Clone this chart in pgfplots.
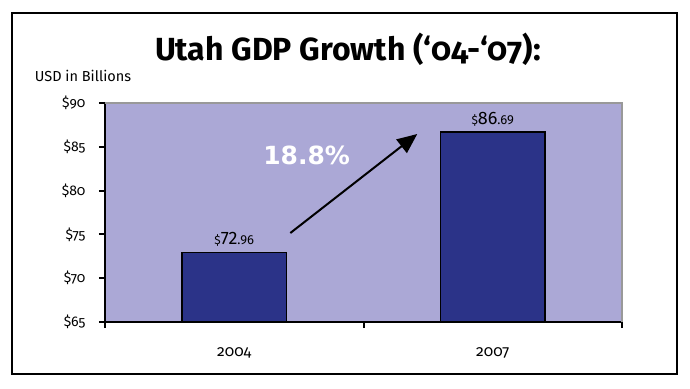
\documentclass[border=0pt]{standalone}
\usepackage{pgfplots}
\pgfplotsset{compat=1.18}
\usetikzlibrary{arrows.meta}
\usepackage{fontspec}
\setmainfont{Fira Sans}[Numbers=OldStyle]
\newfontfamily\pctfont{DejaVu Sans}
\definecolor{lav}{HTML}{ABA8D6}
\definecolor{barblue}{HTML}{2B3388}
\definecolor{frameg}{HTML}{999999}
\begin{document}
\begin{tikzpicture}[x=1pt,y=1pt]
\useasboundingbox (-105,-66) rectangle (585,322);
\draw[line width=2.5pt] (-93,-52) rectangle (572,309);
\node[font=\fontsize{32}{36}\selectfont\bfseries] at (243,273) {Utah GDP Growth (‘04-‘07):};
\node[font=\fontsize{14.5}{16}\selectfont] at (-22,246) {USD in Billions};
\begin{axis}[
  at={(0,0)}, anchor=south west,
  scale only axis, width=517pt, height=219pt,
  xmin=-0.5, xmax=1.5, ymin=65, ymax=90,
  axis background/.style={fill=lav},
  axis x line*=bottom, axis y line*=left,
  axis line style={-, line width=2pt, black},
  ybar, bar width=0.405,
  ytick={65,70,...,90},
  yticklabel={\$\pgfmathprintnumber{\tick}},
  /pgf/number format/assume math mode=true,
  yticklabel style={font=\fontsize{14}{16}\selectfont, xshift=-10pt},
  xtick={-0.5,0.5,1.5}, xticklabels={},
  extra x ticks={0,1}, extra x tick labels={2004,2007},
  extra x tick style={major tick length=0pt, tick label style={yshift=-22pt, font=\fontsize{15.5}{17}\selectfont}},
  tick align=outside, major tick length=6pt,
  tick style={line width=2pt, black},
  clip=false,
  point meta=explicit symbolic,
  nodes near coords,
  nodes near coords style={font=\fontsize{18}{20}\selectfont, black, inner sep=5pt},
]
\draw[frameg, line width=1.5pt] (rel axis cs:0,1) -- (rel axis cs:1,1) -- (rel axis cs:1,0);
\addplot[fill=barblue, draw=black, line width=1.5pt] coordinates {
  (0,72.96) [{\fontsize{12}{12}\selectfont\$}\addfontfeature{Numbers=Lining}72{\fontsize{13}{12}\selectfont.96}]
  (1,86.69) [{\fontsize{12}{12}\selectfont\$}\addfontfeature{Numbers=Lining}86{\fontsize{13}{12}\selectfont.69}]
};
\draw[line width=2pt, -{Triangle[length=20pt,width=17pt]}] (axis cs:0.217,75.16) -- (axis cs:0.708,86.46);
\node[text=white, font=\pctfont\bfseries\fontsize{25}{28}\selectfont] at (axis cs:0.28,84.06) {18.8\%};
\end{axis}
\end{tikzpicture}
\end{document}
